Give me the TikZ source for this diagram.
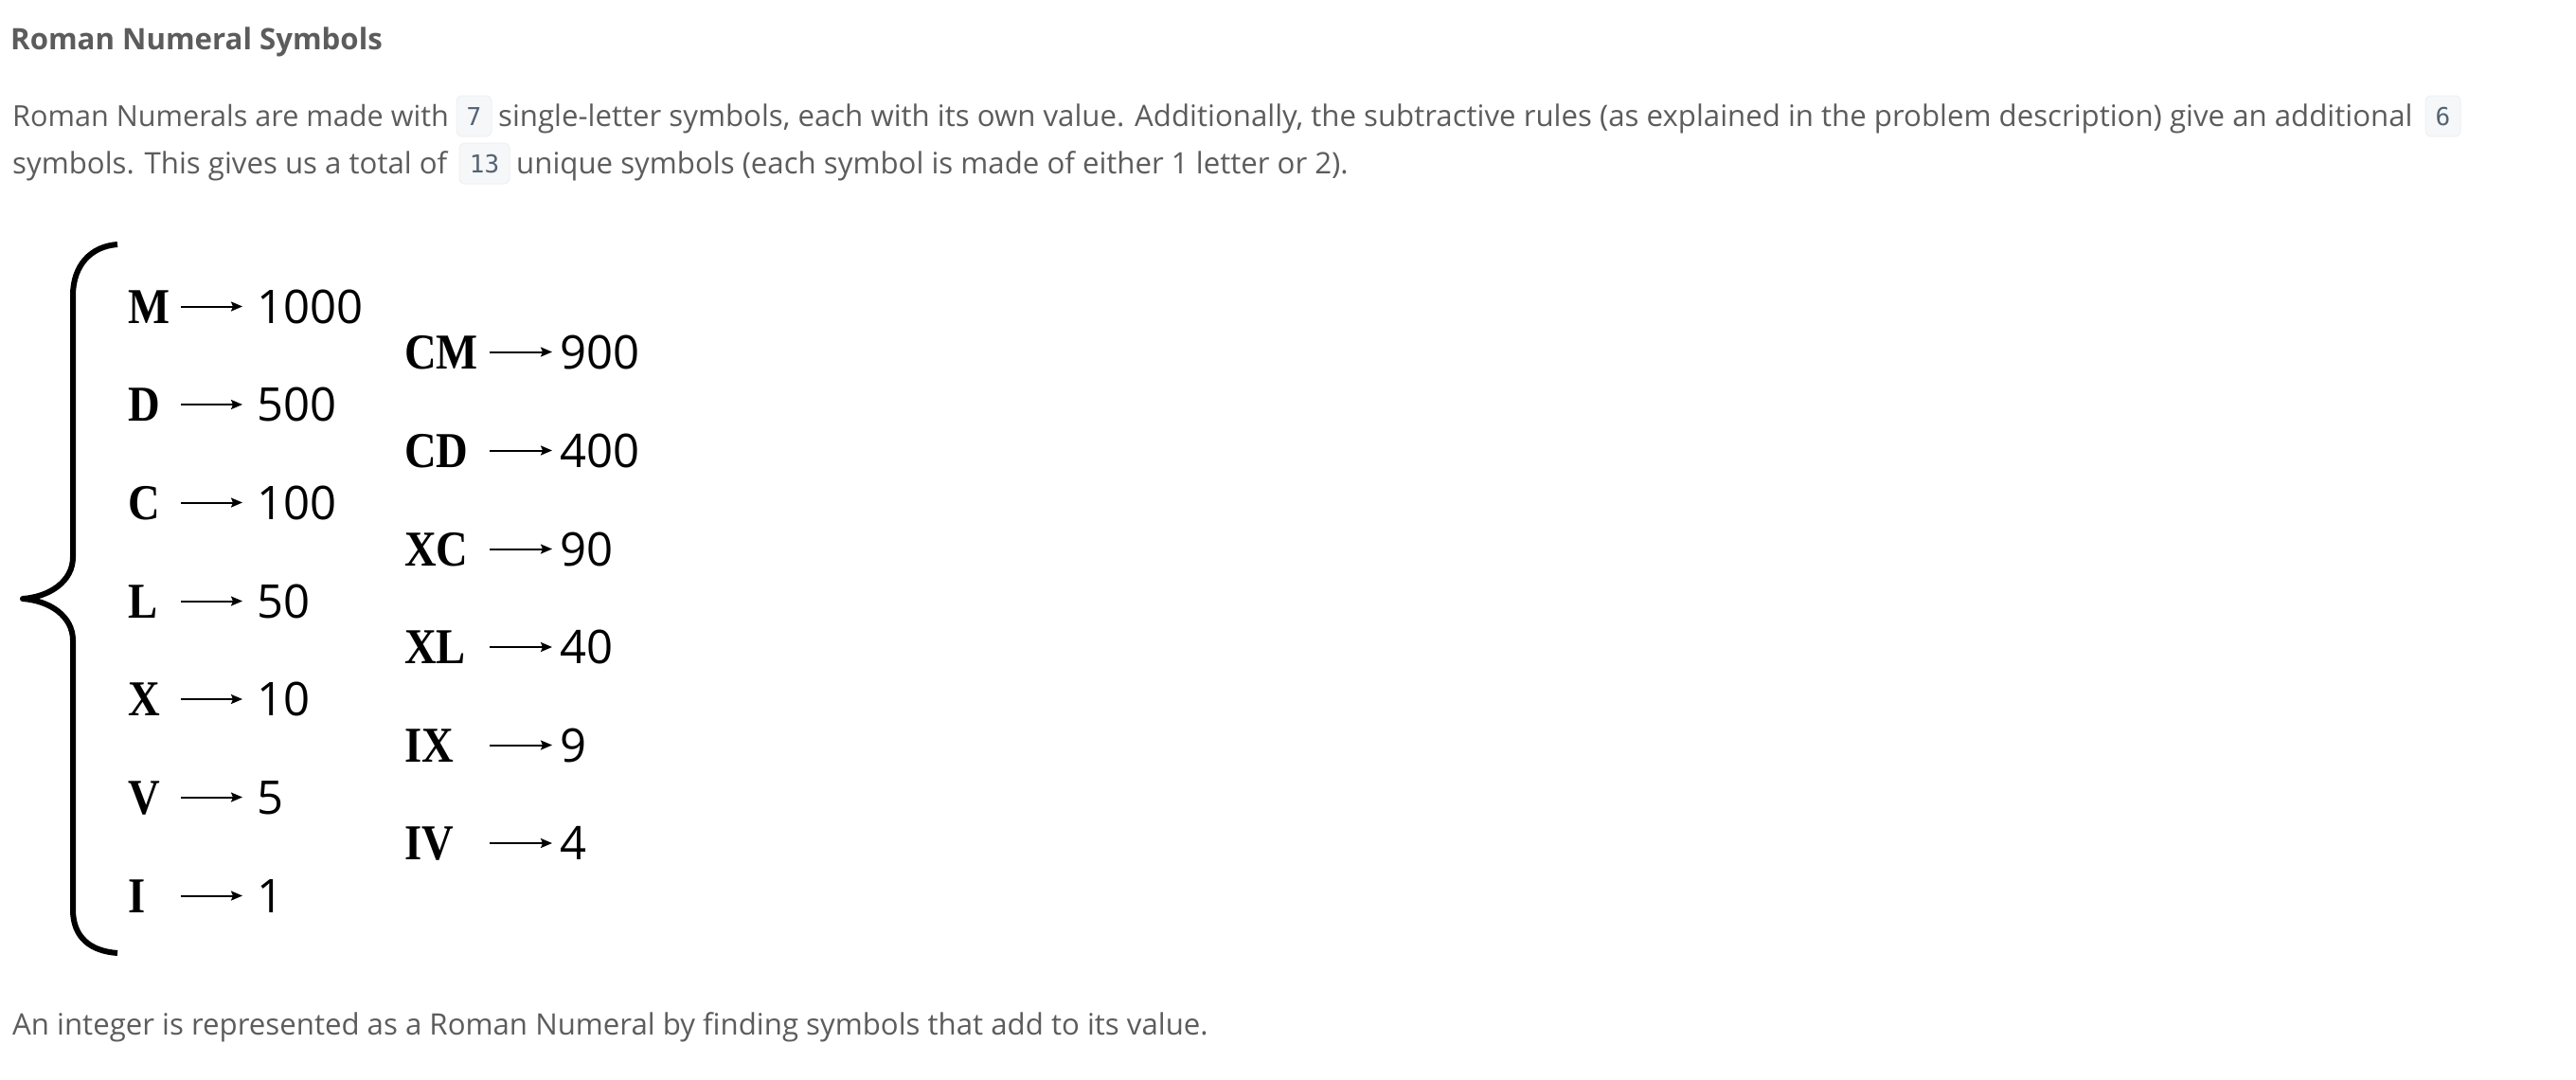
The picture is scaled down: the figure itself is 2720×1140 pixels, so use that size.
\documentclass[tikz,border=0pt]{standalone}
\usepackage{fontspec}
\setmainfont{Open Sans}
\newfontfamily\romanf{Liberation Serif}[FakeStretch=0.88]
\newfontfamily\monof{DejaVu Sans Mono}
\usetikzlibrary{arrows.meta}
\definecolor{txt}{HTML}{5C5C5C}
\definecolor{codefg}{HTML}{546474}
\definecolor{codebg}{HTML}{F5F7F9}
\definecolor{codeln}{HTML}{EEF1F4}
\begin{document}
\begin{tikzpicture}[x=1pt,y=-1pt,
  para/.style={anchor=base west, inner sep=0pt, text=txt, font=\fontsize{31.2}{36}\selectfont},
  ttl/.style={anchor=base west, inner sep=0pt, text=txt, font=\fontsize{31.2}{36}\selectfont\bfseries},
  code/.style={inner sep=0pt, fill=codebg, draw=codeln, line width=1pt, rounded corners=6pt, minimum height=43pt, text height=19pt, text depth=0pt, text=codefg, font=\fontsize{26}{30}\monof},
  sym/.style={anchor=base west, inner sep=0pt, text height=35pt, text depth=0pt, font=\fontsize{53}{60}\romanf\bfseries},
  val/.style={anchor=base west, inner sep=0pt, text height=35pt, text depth=0pt, font=\fontsize{49}{56}\selectfont},
  arr/.style={line width=2pt, -{Stealth[length=12pt,width=10pt,inset=2pt]}},
  brace/.style={line width=6pt, line cap=butt, line join=round}
]
\fill[white] (0,0) rectangle (2720,1140);
\useasboundingbox (0,0) rectangle (2720,1140);

% header text
\node[ttl] (title) at (11,53) {Roman Numeral Symbols};
\node[para, font=\fontsize{30.6}{36}\selectfont] (p1a) at (13,133) {Roman Numerals are made with};
\node[code, minimum width=37pt] (c7) at (500.5,122.5) {7};
\node[para] (p1b) at (526,133) {single-letter symbols, each with its own value. Additionally, the subtractive rules (as explained in the problem description) give an additional};
\node[code, minimum width=37pt] (c6) at (2579.5,122.5) {6};
\node[para] (p2a) at (13,183) {symbols. This gives us a total of};
\node[code, minimum width=53pt] (c13) at (511.5,172.5) {13};
\node[para] (p2b) at (545,183) {unique symbols (each symbol is made of either 1 letter or 2).};

% brace
\draw[brace] (124,258) .. controls (96,260) and (77,280) .. (77,312) -- (77,588)
  .. controls (77,614) and (52,630) .. (24,632)
  .. controls (52,634) and (77,650) .. (77,676) -- (77,960)
  .. controls (77,990) and (96,1004) .. (124,1006);

% single-letter symbols
\foreach \s/\v/\y in {M/1000/341, D/500/444.5, C/100/548, L/50/652, X/10/755.5, V/5/859, I/1/963} {
  \node[sym] (s\s) at (135,\y) {\makebox[55.5pt][l]{\s}};
  \node[val] (v\s) at (271,\y) {\v};
  \draw[arr, shorten >=15pt] (s\s.east) -- (v\s.west);
}

% subtractive symbols
\foreach \s/\v/\y in {CM/900/389, CD/400/493, XC/90/597, XL/40/700.5, IX/9/804, IV/4/907.5} {
  \node[sym] (s\s) at (427,\y) {\makebox[89.5pt][l]{\s}};
  \node[val] (v\s) at (591.5,\y) {\v};
  \draw[arr, shorten >=8.5pt] (s\s.east) -- (v\s.west);
}

% footer
\node[para] (p3) at (13,1092) {An integer is represented as a Roman Numeral by finding symbols that add to its value.};
\end{tikzpicture}
\end{document}
